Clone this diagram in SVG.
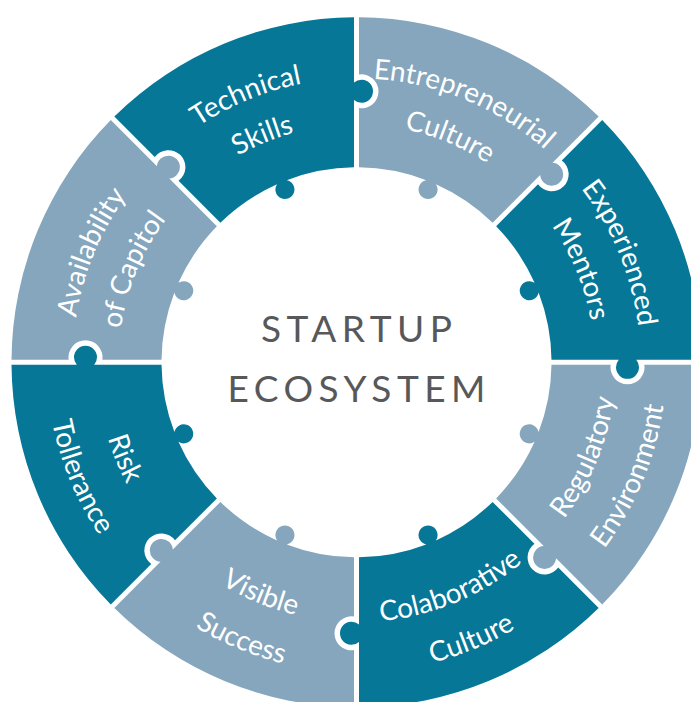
<svg xmlns="http://www.w3.org/2000/svg" xmlns:xlink="http://www.w3.org/1999/xlink" width="691" height="702" viewBox="0 0 691 702">
  <style>
    .dark { fill: #067796; }
    .light { fill: #85a6bd; }
    .label { font-family: Lato, "Open Sans", "Liberation Sans", sans-serif; font-size: 28px; fill: #ffffff; }
    .hub { font-family: Lato, "Open Sans", "Liberation Sans", sans-serif; font-size: 37px; fill: #58585a; letter-spacing: 5.5px; text-anchor: middle; }
  </style>
  <defs>
    <!-- One puzzle segment of the ring, spanning -90deg..-45deg around the origin.
         Knob on its clockwise edge, notch on its counter-clockwise edge, small tab on the inner rim. -->
    <path id="segment" d="M 2.5 -344.991 A 345 345 0 0 1 242.177 -245.713 L 196.022 -199.558 A 11.5 11.5 0 1 1 183.693 -187.229 L 136.107 -139.643 A 195 195 0 0 0 79.429 -178.090 A 9.5 9.5 0 1 1 69.764 -182.093 A 195 195 0 0 0 2.5 -194.984 L 2.5 -254.185 A 17 17 0 1 0 2.5 -287.815 Z"/>
    <!-- Label baselines centred on the segment's mid angle (-67.5deg) -->
    <path id="cw-outer" d="M -172.888 -225.312 A 284 284 0 0 1 281.570 -37.069"/>
    <path id="cw-inner" d="M -144.885 -188.818 A 238 238 0 0 1 235.964 -31.065"/>
    <path id="ccw-inner" d="M 257.776 -33.937 A 260 260 0 0 0 -158.278 -206.272"/>
    <path id="ccw-outer" d="M 307.348 -40.463 A 310 310 0 0 0 -188.716 -245.939"/>
  </defs>

  <rect width="691" height="702" fill="#ffffff"/>

  <g transform="translate(356.5 362.3)">
    <g id="entrepreneurial-culture">
      <use href="#segment" class="light"/>
      <text class="label"><textPath href="#cw-outer" startOffset="50%" text-anchor="middle">Entrepreneurial</textPath></text>
      <text class="label"><textPath href="#cw-inner" startOffset="50%" text-anchor="middle">Culture</textPath></text>
    </g>
    <g id="experienced-mentors" transform="rotate(45)">
      <use href="#segment" class="dark"/>
      <text class="label"><textPath href="#cw-outer" startOffset="50%" text-anchor="middle">Experienced</textPath></text>
      <text class="label"><textPath href="#cw-inner" startOffset="50%" text-anchor="middle">Mentors</textPath></text>
    </g>
    <g id="regulatory-environment" transform="rotate(90)">
      <use href="#segment" class="light"/>
      <text class="label"><textPath href="#ccw-inner" startOffset="50%" text-anchor="middle">Regulatory</textPath></text>
      <text class="label"><textPath href="#ccw-outer" startOffset="50%" text-anchor="middle">Environment</textPath></text>
    </g>
    <g id="colaborative-culture" transform="rotate(135)">
      <use href="#segment" class="dark"/>
      <text class="label"><textPath href="#ccw-inner" startOffset="50%" text-anchor="middle">Colaborative</textPath></text>
      <text class="label"><textPath href="#ccw-outer" startOffset="50%" text-anchor="middle">Culture</textPath></text>
    </g>
    <g id="visible-success" transform="rotate(180)">
      <use href="#segment" class="light"/>
      <text class="label"><textPath href="#ccw-inner" startOffset="50%" text-anchor="middle">Visible</textPath></text>
      <text class="label"><textPath href="#ccw-outer" startOffset="50%" text-anchor="middle">Success</textPath></text>
    </g>
    <g id="risk-tollerance" transform="rotate(225)">
      <use href="#segment" class="dark"/>
      <text class="label"><textPath href="#ccw-inner" startOffset="50%" text-anchor="middle">Risk</textPath></text>
      <text class="label"><textPath href="#ccw-outer" startOffset="50%" text-anchor="middle">Tollerance</textPath></text>
    </g>
    <g id="availability-of-capitol" transform="rotate(270)">
      <use href="#segment" class="light"/>
      <text class="label"><textPath href="#cw-outer" startOffset="50%" text-anchor="middle">Availability</textPath></text>
      <text class="label"><textPath href="#cw-inner" startOffset="50%" text-anchor="middle">of Capitol</textPath></text>
    </g>
    <g id="technical-skills" transform="rotate(315)">
      <use href="#segment" class="dark"/>
      <text class="label"><textPath href="#cw-outer" startOffset="50%" text-anchor="middle">Technical</textPath></text>
      <text class="label"><textPath href="#cw-inner" startOffset="50%" text-anchor="middle">Skills</textPath></text>
    </g>
  </g>

  <g id="startup-ecosystem">
    <text class="hub" x="359.2" y="341.7">STARTUP</text>
    <text class="hub" x="359.2" y="401.7">ECOSYSTEM</text>
  </g>

  <!-- The segments interlock directly; there are no separate connector lines. -->
  <g id="connectors"/>
</svg>
